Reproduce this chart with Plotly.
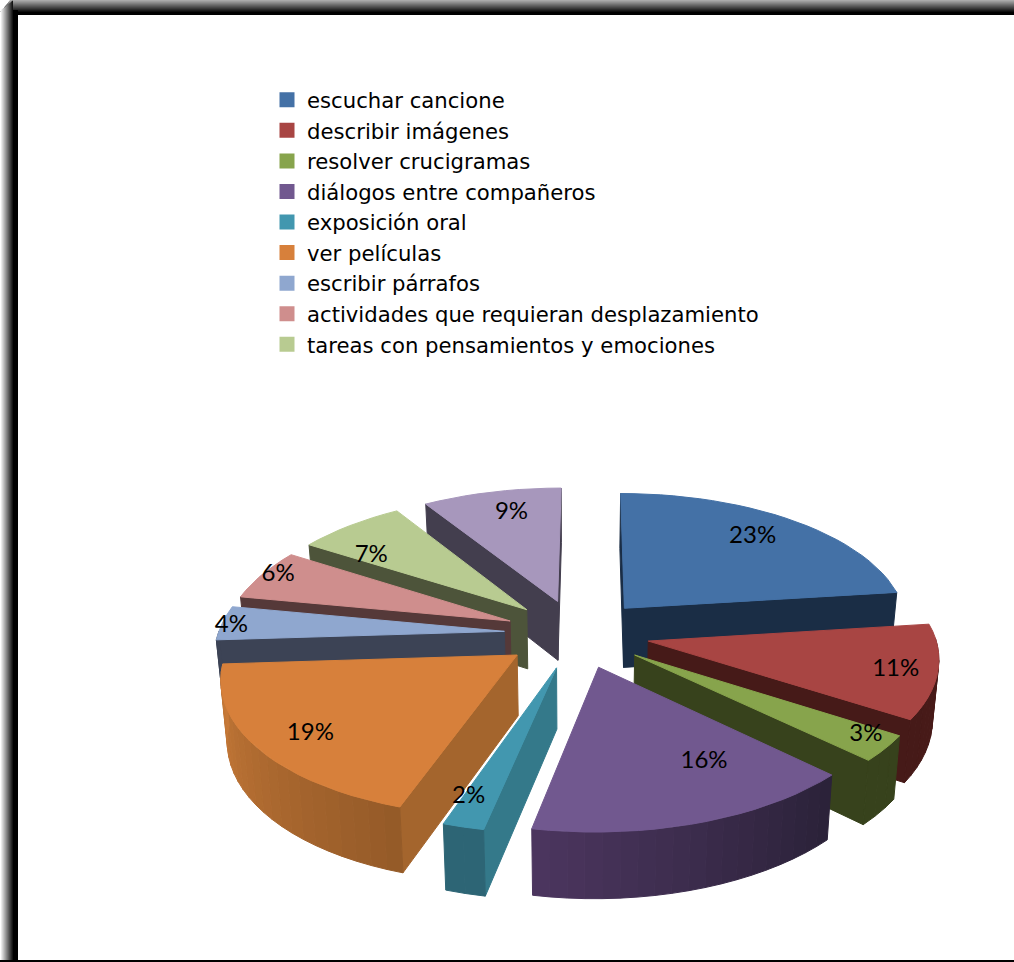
import math
import plotly.graph_objects as go

# ---- data ----
categories = ["escuchar cancione", "describir imágenes", "resolver crucigramas",
              "diálogos entre compañeros", "exposición oral", "ver películas",
              "escribir párrafos", "actividades que requieran desplazamiento",
              "tareas con pensamientos y emociones", ""]
values = [23, 11, 3, 16, 2, 19, 4, 6, 7, 9]

# ---- styles ----
top_colors = ["#4471A6", "#A84543", "#87A44C", "#71588F", "#4297AF",
              "#D7803B", "#8FA7CF", "#CF8E8D", "#B8CB91", "#A797BC"]
wall_colors = ["#1A2D45", "#461A18", "#37421C", "#3E2F4F", "#34798A",
               "#A4652D", "#3C4355", "#553939", "#4D543A", "#433E4E"]
rim_first = ["#1A2D45", "#4A1B19", "#37421C", "#2A2138", "#2D6575",
             "#945A28", "#3C4355", "#553939", "#4D543A", "#433E4E"]
rim_last = ["#1A2D45", "#461A18", "#37421C", "#4C365F", "#2D6575",
            "#C87A38", "#3C4355", "#553939", "#4D543A", "#433E4E"]
label_radius = [.792, .858, .90, .685, .83, .815, .968, .952, .755, .81]
label_turn = [-2, 0, -3, -11.5, 2.7, -.6, 0, 2, -7.6, 2.4]
LABEL_DY = 2.5

# ---- projection of the tilted, exploded pie ----
CX, CY, A, B, K, H0, K2, EXPLODE, SKEW = 577, 633.5, 286, 135, .125, 60, .08, .255, 7
EYE = (0.0, -1 / K)


def proj(x, y, low=False):
    s = 1 / (1 + K * y)
    px, py = CX + A * x * s + SKEW * (y if y < 0 else .2 * y), CY - B * y * s
    if low:
        px = CX + (px - CX) * .982
        py += H0 / (1 + K2 * y)
    return px, py


def hex2rgb(c):
    return [int(c[i:i + 2], 16) for i in (1, 3, 5)]


def mix(c1, c2, t):
    a, b = hex2rgb(c1), hex2rgb(c2)
    return "rgb(%d,%d,%d)" % tuple(round(a[i] + (b[i] - a[i]) * t) for i in range(3))


def poly(pts, color):
    xs = [p[0] for p in pts] + [pts[0][0]]
    ys = [p[1] for p in pts] + [pts[0][1]]
    return go.Scatter(x=xs, y=ys, mode="lines", fill="toself", fillcolor=color,
                      line=dict(color=color, width=1), showlegend=False, hoverinfo="skip")


total = sum(values)
slices = []
acc = 0
for i, v in enumerate(values):
    t0 = acc / total * 2 * math.pi
    acc += v
    t1 = acc / total * 2 * math.pi
    m = (t0 + t1) / 2
    apex = (EXPLODE * math.sin(m), EXPLODE * math.cos(m))
    slices.append(dict(i=i, t0=t0, t1=t1, m=m, apex=apex))

fig = go.Figure()


def facing(n, p):
    return n[0] * (EYE[0] - p[0]) + n[1] * (EYE[1] - p[1]) > 0


for sl in sorted(slices, key=lambda s: -s["apex"][1]):
    i, t0, t1, ax, ay = sl["i"], sl["t0"], sl["t1"], sl["apex"][0], sl["apex"][1]
    n = max(2, int((t1 - t0) / math.radians(3)))
    ts = [t0 + (t1 - t0) * k / n for k in range(n + 1)]
    rim = [(ax + math.sin(t), ay + math.cos(t)) for t in ts]
    # radial walls
    walls = [((-math.cos(t0), math.sin(t0)), rim[0]), ((math.cos(t1), -math.sin(t1)), rim[-1])]
    for nrm, edge in walls:
        if facing(nrm, (ax, ay)):
            fig.add_trace(poly([proj(ax, ay), proj(*edge), proj(*edge, True), proj(ax, ay, True)],
                               wall_colors[i]))
    # outer rim
    for k in range(n):
        tm = (ts[k] + ts[k + 1]) / 2
        if math.cos(tm) < 0:
            fig.add_trace(poly([proj(*rim[k]), proj(*rim[k + 1]), proj(*rim[k + 1], True), proj(*rim[k], True)],
                               mix(rim_first[i], rim_last[i], (k + .5) / n)))
    # top
    fig.add_trace(poly([proj(ax, ay)] + [proj(*q) for q in rim], top_colors[i]))

# percent labels
lx, ly, lt = [], [], []
for sl in slices:
    i = sl["i"]
    a = sl["m"] + math.radians(label_turn[i])
    px, py = proj(sl["apex"][0] + label_radius[i] * math.sin(a), sl["apex"][1] + label_radius[i] * math.cos(a))
    lx.append(px)
    ly.append(py + LABEL_DY)
    lt.append(f"{round(values[i] / total * 100)}%")
fig.add_trace(go.Scatter(x=lx, y=ly, text=lt, mode="text", textposition="middle center",
                         textfont=dict(family="Lato", size=24, color="black"),
                         showlegend=False, hoverinfo="skip"))

# legend entries
for i, name in enumerate(categories):
    if name:
        fig.add_trace(go.Scatter(x=[None], y=[None], mode="markers", name=name,
                                 marker=dict(symbol="square", size=15, color=top_colors[i])))

# frame: soft black border on top and left, thin line at bottom
shapes = []
steps = 12
for k in range(steps):
    g = round(170 * (1 - k / steps))
    shapes.append(dict(type="rect", xref="paper", yref="paper", layer="below",
                       x0=(steps - k) * .8 / 1014, x1=1, y0=1 - k / 962, y1=1 - (k + 1) / 962,
                       fillcolor=f"rgb({g},{g},{g})", line_width=0))
shapes.append(dict(type="rect", xref="paper", yref="paper", layer="below",
                   x0=.0 + 10 / 1014, x1=1, y0=1 - 12 / 962, y1=1 - 15 / 962, fillcolor="black", line_width=0))
for k in range(steps):
    g = round(235 * (1 - k / steps))
    shapes.append(dict(type="rect", xref="paper", yref="paper", layer="below",
                       y0=0, y1=1 - (steps - k) * .8 / 962, x0=(k + 1) / 1014, x1=(k + 2) / 1014,
                       fillcolor=f"rgb({g},{g},{g})", line_width=0))
shapes.append(dict(type="rect", xref="paper", yref="paper", layer="below",
                   x0=13 / 1014, x1=18 / 1014, y0=0, y1=1 - 10 / 962, fillcolor="black", line_width=0))
shapes.append(dict(type="rect", xref="paper", yref="paper", layer="below",
                   x0=0, x1=1, y0=0, y1=2 / 962, fillcolor="black", line_width=0))

fig.update_layout(
    width=1014, height=962, margin=dict(l=0, r=0, t=0, b=0),
    paper_bgcolor="white", plot_bgcolor="rgba(0,0,0,0)",
    xaxis=dict(range=[0, 1014], visible=False, fixedrange=True),
    yaxis=dict(range=[962, 0], visible=False, fixedrange=True),
    shapes=shapes,
    showlegend=True,
    legend=dict(x=267 / 1014, y=1 - 79.5 / 962, xanchor="left", yanchor="top", bgcolor="rgba(0,0,0,0)",
                font=dict(family="DejaVu Sans", size=21.2, color="black"), tracegroupgap=0, traceorder="normal"),
)
fig.write_html("out.html", config=dict(displayModeBar=False),
               post_script="document.body.style.margin='0';document.documentElement.style.overflow='hidden';")
